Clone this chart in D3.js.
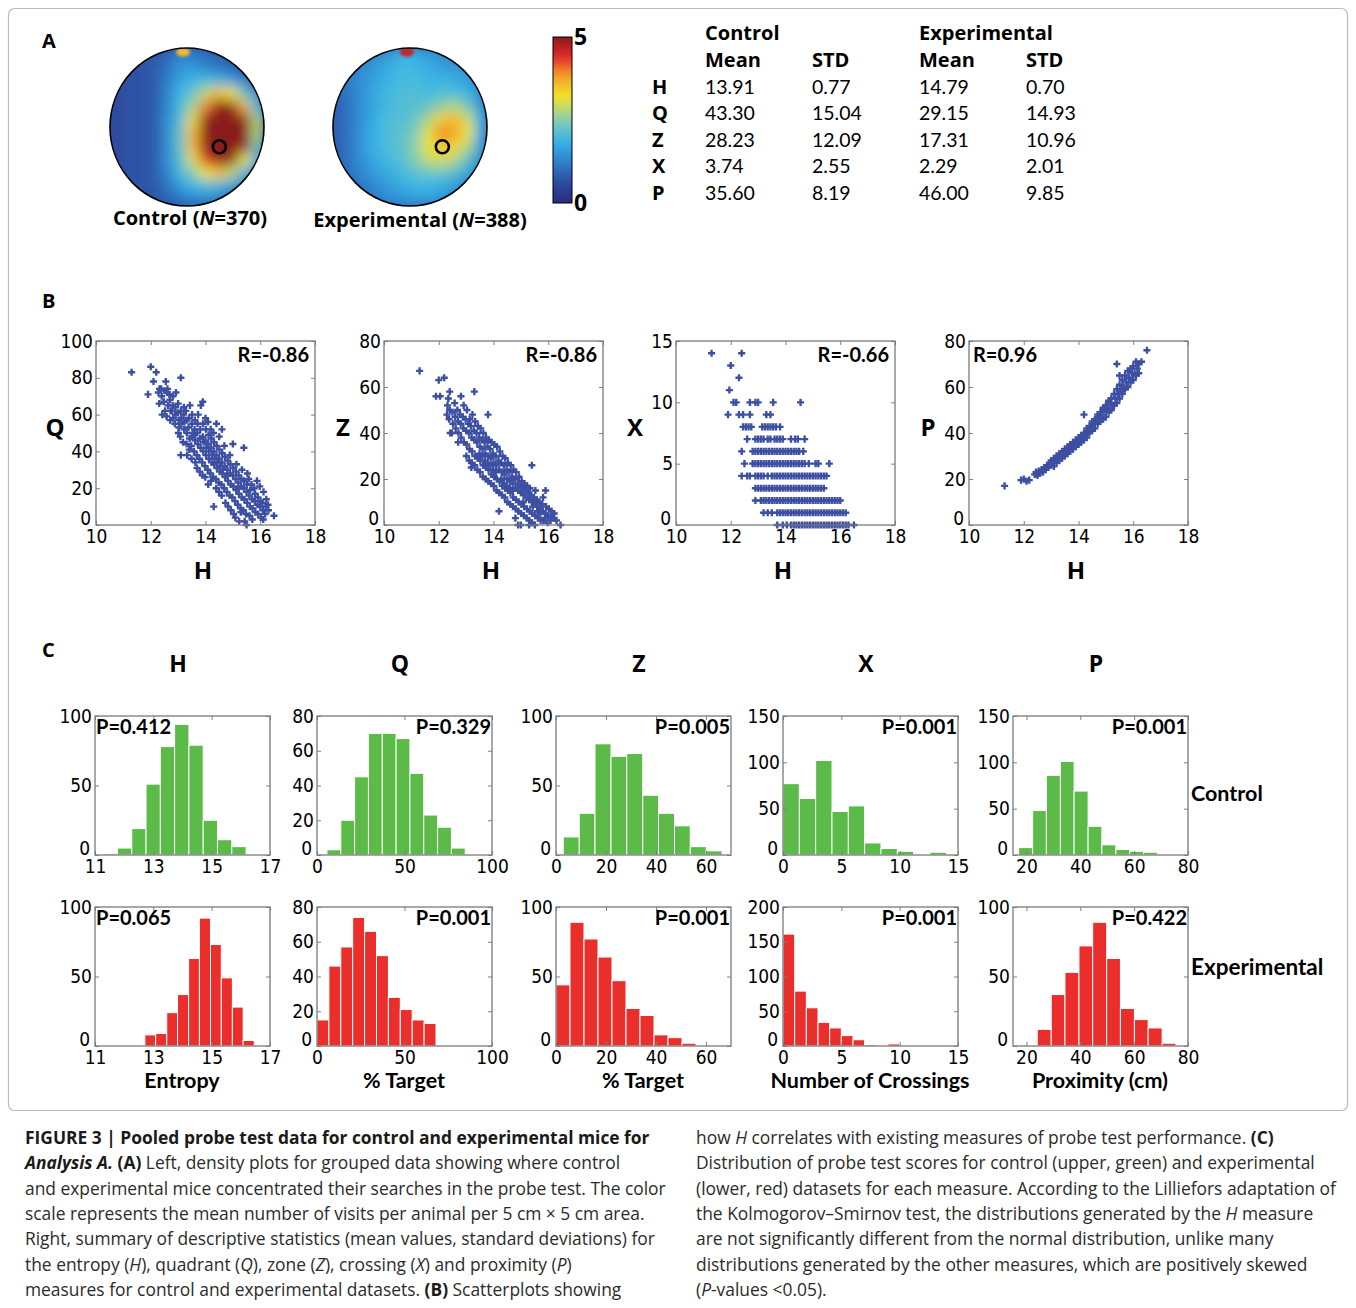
<!DOCTYPE html>
<html>
<head>
<meta charset="utf-8">
<script src="https://cdn.jsdelivr.net/npm/d3@7"></script>
<style>
body { margin: 0; background: #fff; }
svg { display: block; }
.ax text { font-family: "Liberation Sans Narrow", "DejaVu Sans Condensed", sans-serif; font-stretch: condensed; font-size: 19px; fill: #000; }
.ax line { stroke: #808080; }
.bold { font-family: Lato, "Open Sans", sans-serif; font-weight: bold; fill: #000; }
.obold { font-family: "Open Sans", Lato, sans-serif; font-weight: bold; fill: #000; }
.reg { font-family: Lato, "Open Sans", sans-serif; fill: #000; }
.cap { font-family: "Open Sans", Lato, sans-serif; font-size: 17.4px; fill: #2b2b2b; white-space: pre; }
</style>
</head>
<body>
<svg width="1356" height="1308"></svg>
<script>
var svg = d3.select("svg");
var defs = svg.append("defs");

// ---------- panel A data ----------
var measures = ["H", "Q", "Z", "X", "P"];
var ctrlMean = ["13.91", "43.30", "28.23", "3.74", "35.60"];
var ctrlStd = ["0.77", "15.04", "12.09", "2.55", "8.19"];
var expMean = ["14.79", "29.15", "17.31", "2.29", "46.00"];
var expStd = ["0.70", "14.93", "10.96", "2.01", "9.85"];

// visits per 5x5 cm, coarse grid (rows top->bottom)
// values above 5 saturate the colour scale, as in the original
var ctrlDensity = [
  [0.6,0.6,0.7,0.7,0.9,1.3,1.2,1.0,0.9,0.8,0.7,0.7],
  [0.6,0.7,0.7,0.8,1.1,1.5,1.5,1.3,1.1,0.9,0.8,0.7],
  [0.6,0.7,0.7,0.8,1.2,1.7,1.9,2.0,2.0,1.6,1.2,0.9],
  [0.6,0.7,0.7,0.8,1.3,1.9,2.3,2.9,3.6,3.2,2.3,1.4],
  [0.6,0.7,0.7,0.8,1.3,2.0,2.7,4.0,5.6,5.6,3.6,2.0],
  [0.6,0.7,0.7,0.8,1.4,2.1,3.3,5.6,7.0,7.0,5.6,2.8],
  [0.6,0.7,0.7,0.8,1.4,2.2,3.6,6.2,7.0,7.0,6.0,2.8],
  [0.6,0.7,0.7,0.8,1.4,2.2,3.6,6.2,7.0,7.0,5.2,2.4],
  [0.6,0.7,0.7,0.8,1.4,2.1,3.1,4.4,6.0,5.0,3.2,1.8],
  [0.6,0.7,0.7,0.8,1.3,2.0,2.5,3.2,3.6,2.9,2.0,1.2],
  [0.6,0.7,0.7,0.8,1.1,1.6,1.9,2.1,2.0,1.6,1.2,0.9],
  [0.6,0.6,0.7,0.7,0.9,1.1,1.3,1.3,1.2,1.0,0.8,0.7]
];
var expDensity = [
  [1.0,1.1,1.2,1.4,1.6,1.9,1.8,1.6,1.4,1.2,1.1,1.0],
  [1.0,1.2,1.4,1.6,1.8,2.0,1.9,1.8,1.6,1.6,1.4,1.2],
  [1.0,1.3,1.5,1.7,1.9,2.0,2.0,1.9,1.9,1.8,1.6,1.3],
  [1.0,1.2,1.5,1.8,2.0,2.1,2.1,2.0,2.1,2.1,1.9,1.4],
  [0.9,1.2,1.5,1.8,2.0,2.1,2.1,2.3,2.6,2.8,2.4,1.6],
  [0.9,1.2,1.5,1.9,2.1,2.1,2.3,2.8,3.4,3.6,3.0,1.8],
  [0.9,1.2,1.6,1.9,2.1,2.2,2.5,3.1,4.0,3.8,3.2,1.8],
  [0.9,1.2,1.6,1.9,2.1,2.2,2.6,3.2,3.5,3.3,2.8,1.6],
  [0.9,1.2,1.5,1.8,2.0,2.2,2.5,2.9,3.0,2.8,2.2,1.4],
  [0.9,1.1,1.4,1.6,1.8,2.0,2.2,2.3,2.3,2.1,1.7,1.2],
  [0.8,1.0,1.2,1.4,1.6,1.8,1.9,1.9,1.8,1.6,1.3,1.0],
  [0.8,0.9,1.0,1.2,1.4,1.5,1.6,1.6,1.5,1.3,1.1,0.9]
];
// small hot spot at the start position (arena coords -1..1, value)
var ctrlSpot = [-0.05, -0.95, 3.6];
var expSpot = [-0.04, -0.95, 4.6];
var platform = [0.42, 0.25];

// ---------- panel B data (H vs other measure) ----------
var scatterQ = [[11.3,83],[11.9,71],[12.0,86],[12.1,78],[12.2,83],[12.32,74],[12.28,72],[12.31,66],[12.4,70],[12.42,60],[12.38,74],[12.5,73],[12.52,62],[12.48,67],[12.55,78],[12.6,72],[12.63,65],[12.58,59],[12.61,74],[12.7,68],[12.72,62],[12.68,71],[12.71,57],[12.8,65],[12.82,58],[12.78,62],[12.81,70],[12.9,64],[12.92,72],[12.88,55],[12.91,60],[13.0,66],[13.02,57],[12.98,61],[13.01,50],[13.03,53],[13.1,62],[13.12,55],[13.08,48],[13.11,58],[13.1,38],[13.1,80],[13.2,60],[13.22,52],[13.18,45],[13.21,64],[13.23,56],[13.3,57],[13.32,50],[13.28,62],[13.31,44],[13.33,38],[13.4,58],[13.42,47],[13.38,53],[13.41,41],[13.43,65],[13.5,55],[13.52,48],[13.48,43],[13.51,60],[13.53,50],[13.49,36],[13.6,52],[13.62,46],[13.58,40],[13.61,57],[13.63,34],[13.59,49],[13.7,50],[13.72,44],[13.68,38],[13.71,55],[13.73,60],[13.69,31],[13.8,47],[13.82,42],[13.78,36],[13.81,52],[13.83,65],[13.79,29],[13.9,48],[13.92,40],[13.88,34],[13.91,55],[13.93,45],[13.89,27],[13.9,67],[14.0,46],[14.02,38],[13.98,32],[14.01,52],[14.03,42],[13.99,26],[14.0,58],[14.1,44],[14.12,36],[14.08,30],[14.11,49],[14.13,40],[14.09,56],[14.1,22],[14.2,42],[14.22,34],[14.18,28],[14.21,47],[14.23,38],[14.19,52],[14.2,24],[14.3,40],[14.32,33],[14.28,26],[14.31,45],[14.33,36],[14.3,10],[14.29,50],[14.4,38],[14.42,31],[14.38,25],[14.41,43],[14.43,34],[14.39,20],[14.4,55],[14.5,36],[14.52,29],[14.48,23],[14.51,41],[14.53,32],[14.49,18],[14.5,48],[14.6,34],[14.62,28],[14.58,22],[14.61,39],[14.63,30],[14.59,16],[14.6,52],[14.7,32],[14.72,26],[14.68,20],[14.71,37],[14.73,12],[14.69,43],[14.8,30],[14.82,24],[14.78,18],[14.81,35],[14.83,10],[14.79,27],[14.9,28],[14.92,22],[14.88,16],[14.91,33],[14.93,8],[14.89,38],[15.0,27],[15.02,21],[14.98,15],[15.01,31],[15.0,44],[15.03,6],[15.1,25],[15.12,19],[15.08,13],[15.11,29],[15.13,33],[15.09,4],[15.2,23],[15.22,17],[15.18,11],[15.21,27],[15.23,2],[15.19,20],[15.3,21],[15.32,15],[15.28,9],[15.31,25],[15.33,30],[15.29,7],[15.4,20],[15.42,14],[15.38,8],[15.41,24],[15.4,42],[15.43,2],[15.5,18],[15.52,12],[15.48,6],[15.51,22],[15.5,0],[15.53,28],[15.6,16],[15.62,10],[15.58,25],[15.61,5],[15.63,19],[15.7,14],[15.72,9],[15.68,22],[15.71,3],[15.8,13],[15.82,7],[15.78,20],[15.81,17],[15.9,11],[15.92,6],[15.88,24],[15.91,15],[16.0,10],[16.02,4],[15.98,21],[16.01,13],[16.1,8],[16.12,18],[16.08,12],[16.11,3],[16.2,10],[16.22,14],[16.18,6],[16.3,8],[16.28,11],[16.5,5]];

var scatterZ = [[11.3,67],[11.9,56],[12.0,63],[12.05,56],[12.2,64],[12.35,55],[12.4,58],[13.3,58],[13.8,48],[15.4,26],[15.9,15],[12.3,48],[12.32,52],[12.4,50],[12.42,40],[12.38,46],[12.5,49],[12.52,44],[12.48,40],[12.6,47],[12.62,42],[12.58,53],[12.7,45],[12.72,40],[12.68,50],[12.71,36],[12.8,44],[12.82,38],[12.78,48],[12.81,56],[12.9,42],[12.92,36],[12.88,47],[12.91,52],[13.0,41],[13.02,35],[12.98,46],[13.01,30],[13.03,50],[13.1,40],[13.12,33],[13.08,44],[13.11,28],[13.13,46],[13.2,38],[13.22,32],[13.18,43],[13.21,27],[13.23,48],[13.19,25],[13.3,37],[13.32,30],[13.28,41],[13.31,26],[13.33,45],[13.4,36],[13.42,29],[13.38,40],[13.41,24],[13.43,43],[13.5,34],[13.52,28],[13.48,38],[13.51,23],[13.53,42],[13.49,31],[13.6,33],[13.62,26],[13.58,37],[13.61,21],[13.63,40],[13.59,30],[13.7,31],[13.72,25],[13.68,36],[13.71,20],[13.73,38],[13.69,28],[13.8,30],[13.82,24],[13.78,34],[13.81,19],[13.83,37],[13.79,27],[13.9,29],[13.92,22],[13.88,33],[13.91,18],[13.93,36],[13.89,26],[14.0,27],[14.02,21],[13.98,31],[14.01,17],[14.03,35],[13.99,24],[14.1,26],[14.12,20],[14.08,30],[14.11,15],[14.13,34],[14.09,23],[14.2,24],[14.22,19],[14.18,28],[14.21,14],[14.23,32],[14.2,6],[14.3,23],[14.32,17],[14.28,27],[14.31,13],[14.33,30],[14.29,20],[14.4,22],[14.42,16],[14.38,26],[14.41,12],[14.43,29],[14.39,18],[14.5,20],[14.52,15],[14.48,24],[14.51,10],[14.53,27],[14.49,17],[14.6,19],[14.62,14],[14.58,23],[14.61,9],[14.63,26],[14.59,16],[14.7,18],[14.72,12],[14.68,21],[14.71,8],[14.73,24],[14.69,15],[14.8,16],[14.82,11],[14.78,20],[14.81,7],[14.83,23],[14.8,3],[14.9,15],[14.92,10],[14.88,18],[14.91,6],[14.93,21],[14.9,0],[15.0,14],[15.02,9],[14.98,17],[15.01,5],[15.03,19],[15.0,0],[15.1,13],[15.12,8],[15.08,16],[15.11,4],[15.13,18],[15.09,10],[15.2,12],[15.22,7],[15.18,15],[15.21,3],[15.23,17],[15.3,11],[15.32,6],[15.28,14],[15.31,2],[15.33,16],[15.3,0],[15.4,10],[15.42,5],[15.38,13],[15.41,1],[15.43,8],[15.5,9],[15.52,4],[15.48,12],[15.51,0],[15.53,15],[15.6,8],[15.62,3],[15.58,11],[15.61,6],[15.7,7],[15.72,2],[15.68,10],[15.71,5],[15.8,6],[15.82,2],[15.78,9],[15.81,12],[15.9,5],[15.92,8],[15.88,3],[16.0,4],[16.02,7],[15.98,1],[16.1,4],[16.12,6],[16.08,2],[16.2,3],[16.22,5],[16.3,2],[16.45,0]];

// crossings are integers: one row of H values per X value
var crossingRows = [
  [14, [11.3, 12.4]],
  [13, [12.0]],
  [12, [12.3]],
  [11, [11.95]],
  [10, [12.1, 12.2, 12.7, 12.9, 13.0, 13.55, 14.55]],
  [9, [11.9, 12.3, 12.45, 12.7, 13.3, 13.45]],
  [8, [12.45, 12.55, 12.65, 12.75, 13.15, 13.25, 13.35, 13.45, 13.55, 13.65, 13.8]],
  [7, [12.6, 12.9, 13.0, 13.1, 13.2, 13.35, 13.45, 13.6, 13.7, 13.8, 13.9, 14.2, 14.35, 14.45, 14.7]],
  [6, [12.4, 12.8, 12.9, 13.0, 13.1, 13.2, 13.3, 13.4, 13.5, 13.6, 13.7, 13.8, 13.9, 14.0, 14.1, 14.2, 14.3, 14.4, 14.5, 14.65]],
  [5, [12.5, 12.8, 12.9, 13.0, 13.1, 13.2, 13.3, 13.4, 13.5, 13.6, 13.7, 13.8, 13.9, 14.0, 14.1, 14.2, 14.3, 14.4, 14.5, 14.6, 14.7, 14.85, 15.1, 15.2, 15.6]],
  [4, [12.4, 12.6, 12.7, 12.9, 13.0, 13.1, 13.2, 13.35, 13.5, 13.6, 13.7, 13.8, 13.9, 14.0, 14.1, 14.2, 14.3, 14.4, 14.5, 14.6, 14.7, 14.8, 14.9, 15.0, 15.1, 15.2, 15.3, 15.4, 15.5]],
  [3, [12.9, 13.0, 13.1, 13.2, 13.3, 13.4, 13.5, 13.6, 13.7, 13.8, 13.9, 14.0, 14.1, 14.2, 14.3, 14.4, 14.5, 14.6, 14.7, 14.8, 14.9, 15.0, 15.1, 15.2, 15.3, 15.4]],
  [2, [12.9, 13.1, 13.2, 13.3, 13.4, 13.5, 13.6, 13.7, 13.8, 13.9, 14.0, 14.1, 14.2, 14.3, 14.4, 14.5, 14.6, 14.7, 14.8, 14.9, 15.0, 15.1, 15.2, 15.3, 15.4, 15.5, 15.6, 15.7, 15.8, 15.9, 16.0]],
  [1, [13.2, 13.35, 13.5, 13.7, 13.8, 13.9, 14.0, 14.1, 14.2, 14.3, 14.4, 14.5, 14.6, 14.7, 14.8, 14.9, 15.0, 15.1, 15.2, 15.3, 15.4, 15.5, 15.6, 15.7, 15.8, 15.9, 16.0, 16.1, 16.2]],
  [0, [13.7, 13.9, 14.05, 14.2, 14.3, 14.4, 14.5, 14.6, 14.7, 14.8, 14.9, 15.0, 15.1, 15.2, 15.3, 15.4, 15.5, 15.6, 15.7, 15.8, 15.9, 16.0, 16.1, 16.2, 16.3, 16.5]]
];

var scatterP = [[11.3,17],[11.9,19.5],[12.0,20],[12.1,19],[12.2,19.5],[12.4,22],[12.45,23],[12.5,21.5],[12.55,23.5],[12.6,22.5],[12.65,24],[12.7,23],[12.75,25],[12.8,24],[12.85,26],[12.9,25],[12.95,27],[13.0,26],[13.0,28],[13.05,27],[13.1,25.5],[13.1,29],[13.15,28],[13.2,27],[13.2,30],[13.25,29],[13.3,28],[13.3,31],[13.35,30],[13.4,29],[13.4,32],[13.45,31],[13.5,30],[13.5,33],[13.55,32],[13.6,31],[13.6,34],[13.65,33],[13.7,32],[13.7,35],[13.75,34],[13.8,33],[13.8,36],[13.85,35],[13.9,34],[13.9,37],[13.95,36],[14.0,35],[14.0,38],[14.05,37],[14.1,36],[14.1,39],[14.15,38],[14.2,37],[14.2,40],[14.2,48],[14.25,39],[14.3,38],[14.3,42],[14.35,41],[14.4,40],[14.4,43],[14.45,42],[14.5,41],[14.5,45],[14.55,44],[14.6,42],[14.6,46],[14.65,45],[14.7,44],[14.7,48],[14.75,47],[14.8,45],[14.8,49],[14.85,48],[14.9,46],[14.9,51],[14.95,50],[15.0,47],[15.0,52],[15.05,51],[15.1,49],[15.1,54],[15.15,53],[15.2,50],[15.2,55],[15.25,52],[15.3,52],[15.3,57],[15.35,55],[15.4,53],[15.4,59],[15.4,70],[15.45,57],[15.5,55],[15.5,61],[15.5,65],[15.55,58],[15.6,57],[15.6,63],[15.65,60],[15.7,59],[15.7,65],[15.75,62],[15.8,60],[15.8,67],[15.85,64],[15.9,62],[15.9,68],[15.95,66],[16.0,63],[16.0,69],[16.05,66],[16.1,65],[16.1,71],[16.15,68],[16.2,66],[16.2,70],[16.3,71],[16.5,76]];

var scatterR = ["R=-0.86", "R=-0.86", "R=-0.66", "R=0.96"];

// ---------- panel C data: bin edges and counts ----------
var ctrlHEdges = [11.28,11.77,12.26,12.75,13.24,13.73,14.22,14.71,15.20,15.69,16.18];
var ctrlHCounts = [1,5,19,51,78,94,79,25,11,6];
var ctrlQEdges = [5.7,13.6,21.5,29.4,37.3,45.2,53.1,61.0,68.9,76.8,84.7];
var ctrlQCounts = [3,20,45,70,70,67,47,23,16,4];
var ctrlZEdges = [2.9,9.3,15.6,22.0,28.3,34.7,41.0,47.4,53.7,60.1,66.4];
var ctrlZCounts = [13,30,80,71,73,43,30,21,6,3];
var ctrlXEdges = [0,1.4,2.8,4.2,5.6,7.0,8.4,9.8,11.2,12.6,14.0];
var ctrlXCounts = [77,61,102,47,53,13,7,4,1,3];
var ctrlPEdges = [17.1,22.3,27.4,32.6,37.7,42.9,48.0,53.2,58.3,63.5,68.6];
var ctrlPCounts = [8,48,86,101,69,31,11,6,4,3];
var expHEdges = [12.71,13.08,13.46,13.83,14.21,14.58,14.96,15.33,15.71,16.08,16.46];
var expHCounts = [8,9,24,37,63,92,73,49,28,4];
var expQEdges = [0,6.8,13.6,20.4,27.2,34.0,40.8,47.6,54.4,61.2,68.0];
var expQCounts = [15,46,57,74,66,52,28,21,15,13];
var expZEdges = [0,5.6,11.2,16.8,22.4,28.0,33.6,39.2,44.8,50.4,56.0];
var expZCounts = [44,89,77,64,47,27,22,8,6,2];
var expXEdges = [0,1,2,3,4,5,6,7,8,9,10];
var expXCounts = [161,79,55,34,26,15,9,2,0,3];
var expPEdges = [24.0,29.2,34.3,39.5,44.6,49.8,54.9,60.1,65.2,70.4,75.5];
var expPCounts = [12,37,53,72,89,63,27,19,13,2];

var ctrlPvals = ["P=0.412", "P=0.329", "P=0.005", "P=0.001", "P=0.001"];
var expPvals = ["P=0.065", "P=0.001", "P=0.001", "P=0.001", "P=0.422"];
var histXLabels = ["Entropy", "% Target", "% Target", "Number of Crossings", "Proximity (cm)"];

var captionLeft = [
  [["FIGURE 3 | Pooled probe test data for control and experimental mice for", "b"]],
  [["Analysis A.", "bi"], [" (A)", "b"], [" Left, density plots for grouped data showing where control", ""]],
  [["and experimental mice concentrated their searches in the probe test. The color", ""]],
  [["scale represents the mean number of visits per animal per 5 cm \u00d7 5 cm area.", ""]],
  [["Right, summary of descriptive statistics (mean values, standard deviations) for", ""]],
  [["the entropy (", ""], ["H", "i"], ["), quadrant (", ""], ["Q", "i"], ["), zone (", ""], ["Z", "i"], ["), crossing (", ""], ["X", "i"], [") and proximity (", ""], ["P", "i"], [")", ""]],
  [["measures for control and experimental datasets. ", ""], ["(B)", "b"], [" Scatterplots showing", ""]]
];
var captionRight = [
  [["how ", ""], ["H", "i"], [" correlates with existing measures of probe test performance. ", ""], ["(C)", "b"]],
  [["Distribution of probe test scores for control (upper, green) and experimental", ""]],
  [["(lower, red) datasets for each measure. According to the Lilliefors adaptation of", ""]],
  [["the Kolmogorov\u2013Smirnov test, the distributions generated by the ", ""], ["H", "i"], [" measure", ""]],
  [["are not significantly different from the normal distribution, unlike many", ""]],
  [["distributions generated by the other measures, which are positively skewed", ""]],
  [["(", ""], ["P", "i"], ["-values <0.05).", ""]]
];

// ---------- colours ----------
var jet = d3.scaleLinear()
  .domain([0, 0.6, 1.3, 1.9, 2.5, 3.2, 3.9, 4.4, 5])
  .range(["#272c7c", "#2d4a9e", "#2f86cf", "#3ab6e6", "#86cdb0", "#f2e52a", "#f5952a", "#e3282b", "#8a1a1c"])
  .clamp(true);
var green = "#5cba48", red = "#ea2e2b", dotBlue = "#3c4fa2";

// frame round the whole figure
svg.append("rect").attr("x", 8.5).attr("y", 8.5).attr("width", 1339).attr("height", 1102)
  .attr("rx", 6).attr("fill", "none").attr("stroke", "#bdbdbd").attr("stroke-width", 1.2);

function panelLetter(t, x, y) {
  svg.append("text").attr("class", "obold").attr("x", x).attr("y", y).attr("font-size", 20).text(t);
}
panelLetter("A", 42, 48);
panelLetter("B", 42, 308);
panelLetter("C", 42, 657);

// ---------- A: density maps ----------
defs.append("filter").attr("id", "soft").attr("x", "-20%").attr("y", "-20%").attr("width", "140%").attr("height", "140%")
  .append("feGaussianBlur").attr("stdDeviation", 6.5);
defs.append("filter").attr("id", "spot").attr("x", "-100%").attr("y", "-100%").attr("width", "300%").attr("height", "300%")
  .append("feGaussianBlur").attr("stdDeviation", 1.5);

var arenaRx = 77, arenaRy = 79;
function drawArena(cx, cy, grid, spot, id) {
  var n = grid.length;
  var gx = d3.scaleLinear().domain([0, n]).range([cx - arenaRx, cx + arenaRx]);
  var gy = d3.scaleLinear().domain([0, n]).range([cy - arenaRy, cy + arenaRy]);
  var ax = d3.scaleLinear().domain([-1, 1]).range([cx - arenaRx, cx + arenaRx]);
  var ay = d3.scaleLinear().domain([-1, 1]).range([cy - arenaRy, cy + arenaRy]);
  defs.append("clipPath").attr("id", id).append("ellipse")
    .attr("cx", cx).attr("cy", cy).attr("rx", arenaRx).attr("ry", arenaRy);
  var g = svg.append("g").attr("clip-path", "url(#" + id + ")");
  g.append("ellipse").attr("cx", cx).attr("cy", cy).attr("rx", arenaRx).attr("ry", arenaRy)
    .attr("fill", jet(grid[n - 1][0]));
  var cells = [];
  grid.forEach(function(row, i) { row.forEach(function(v, j) { cells.push({i: i, j: j, v: v}); }); });
  g.append("g").attr("filter", "url(#soft)").selectAll("rect").data(cells).join("rect")
    .attr("x", function(d) { return gx(d.j) - 0.5; })
    .attr("y", function(d) { return gy(d.i) - 0.5; })
    .attr("width", gx(1) - gx(0) + 1)
    .attr("height", gy(1) - gy(0) + 1)
    .attr("fill", function(d) { return jet(d.v); });
  g.append("ellipse").attr("filter", "url(#spot)")
    .attr("cx", ax(spot[0])).attr("cy", ay(spot[1])).attr("rx", 7).attr("ry", 4.5)
    .attr("fill", jet(spot[2]));
  svg.append("ellipse").attr("cx", cx).attr("cy", cy).attr("rx", arenaRx).attr("ry", arenaRy)
    .attr("fill", "none").attr("stroke", "#000").attr("stroke-width", 1.6);
  svg.append("circle").attr("cx", ax(platform[0])).attr("cy", ay(platform[1])).attr("r", 6.5)
    .attr("fill", "none").attr("stroke", "#000").attr("stroke-width", 2.6);
}
drawArena(187, 127, ctrlDensity, ctrlSpot, "arenaC");
drawArena(410, 127, expDensity, expSpot, "arenaE");

function groupLabel(x, y, name, n) {
  var t = svg.append("text").attr("class", "obold").attr("x", x).attr("y", y)
    .attr("font-size", 20).attr("text-anchor", "middle");
  t.append("tspan").text(name + " (");
  t.append("tspan").attr("font-style", "italic").text("N");
  t.append("tspan").text("=" + n + ")");
}
groupLabel(190, 225, "Control", 370);
groupLabel(420, 227, "Experimental", 388);

// colour bar
var cb = defs.append("linearGradient").attr("id", "jetbar").attr("x1", 0).attr("y1", 1).attr("x2", 0).attr("y2", 0);
d3.range(0, 5.01, 0.25).forEach(function(v) {
  cb.append("stop").attr("offset", v / 5).attr("stop-color", jet(v));
});
var cbScale = d3.scaleLinear().domain([0, 5]).range([203, 37]);
svg.append("rect").attr("x", 553).attr("y", cbScale(5)).attr("width", 19).attr("height", cbScale(0) - cbScale(5))
  .attr("fill", "url(#jetbar)").attr("stroke", "#000").attr("stroke-width", 1);
[5, 0].forEach(function(v) {
  svg.append("text").attr("class", "obold").attr("x", 574).attr("y", cbScale(v) + 8)
    .attr("font-size", 23).text(v);
});

// summary table
var rowY = d3.scaleBand().domain(measures).range([74, 206]);
function tcell(x, y, txt, cls, fs) {
  svg.append("text").attr("class", cls).attr("x", x).attr("y", y).attr("font-size", fs).text(txt);
}
tcell(705, 40, "Control", "obold", 20);
tcell(919, 40, "Experimental", "obold", 20);
tcell(705, 67, "Mean", "obold", 20); tcell(812, 67, "STD", "obold", 20);
tcell(919, 67, "Mean", "obold", 20); tcell(1026, 67, "STD", "obold", 20);
measures.forEach(function(m, i) {
  var y = rowY(m) + 20;
  tcell(652, y, m, "obold", 20);
  tcell(705, y, ctrlMean[i], "reg", 19.5);
  tcell(812, y, ctrlStd[i], "reg", 19.5);
  tcell(919, y, expMean[i], "reg", 19.5);
  tcell(1026, y, expStd[i], "reg", 19.5);
});

// ---------- shared axes box (MATLAB style) ----------
function axesBox(x, y, xt, yt) {
  var x0 = x.range()[0], x1 = x.range()[1], yb = y.range()[0], yt0 = y.range()[1];
  var g = svg.append("g");
  g.append("g").attr("class", "ax").attr("transform", "translate(0," + yb + ")")
    .call(d3.axisBottom(x).tickValues(xt).tickSize(-4).tickPadding(5).tickFormat(d3.format("d")));
  g.append("g").attr("class", "ax").attr("transform", "translate(0," + yt0 + ")")
    .call(d3.axisTop(x).tickValues(xt).tickSize(-4).tickFormat(""));
  g.append("g").attr("class", "ax").attr("transform", "translate(" + x0 + ",0)")
    .call(d3.axisLeft(y).tickValues(yt).tickSize(-4).tickPadding(3));
  g.append("g").attr("class", "ax").attr("transform", "translate(" + x1 + ",0)")
    .call(d3.axisRight(y).tickValues(yt).tickSize(-4).tickFormat(""));
  g.selectAll(".domain").remove();
  // MATLAB lifts the zero of the y axis a little above the corner
  g.selectAll(".ax text").filter(function(d) { return d === 0 && this.getAttribute("x") < 0; })
    .attr("dy", "-0.05em").attr("x", -5);
  g.append("rect").attr("x", x0).attr("y", yt0).attr("width", x1 - x0).attr("height", yb - yt0)
    .attr("fill", "none").attr("stroke", "#7a7a7a").attr("stroke-width", 1.3);
}

// ---------- B: scatterplots ----------
var scatterSets = [
  {data: scatterQ, name: "Q", ymax: 100, yt: [0, 20, 40, 60, 80, 100]},
  {data: scatterZ, name: "Z", ymax: 80, yt: [0, 20, 40, 60, 80]},
  {data: [].concat.apply([], crossingRows.map(function(r) { return r[1].map(function(h) { return [h, r[0]]; }); })),
   name: "X", ymax: 15, yt: [0, 5, 10, 15]},
  {data: scatterP, name: "P", ymax: 80, yt: [0, 20, 40, 60, 80]}
];
var scLeft = [96, 384, 676, 969], scW = 219, scTop = 341, scH = 184;
var marker = d3.symbol().type(d3.symbolCross).size(28);
scatterSets.forEach(function(s, k) {
  var x = d3.scaleLinear().domain([10, 18]).range([scLeft[k], scLeft[k] + scW]);
  var y = d3.scaleLinear().domain([0, s.ymax]).range([scTop + scH, scTop]);
  svg.append("g").selectAll("path").data(s.data).join("path")
    .attr("d", marker)
    .attr("transform", function(d) { return "translate(" + x(d[0]) + "," + y(d[1]) + ")"; })
    .attr("fill", dotBlue);
  axesBox(x, y, [10, 12, 14, 16, 18], s.yt);
  var left = k === 3;
  svg.append("text").attr("class", "bold").attr("font-size", 20)
    .attr("x", left ? scLeft[k] + 4 : scLeft[k] + scW - 6).attr("y", scTop + 21)
    .attr("text-anchor", left ? "start" : "end").text(scatterR[k]);
  svg.append("text").attr("class", "obold").attr("font-size", 24).attr("text-anchor", "middle")
    .attr("x", scLeft[k] - 41).attr("y", scTop + 95).text(s.name);
  svg.append("text").attr("class", "obold").attr("font-size", 24).attr("text-anchor", "middle")
    .attr("x", scLeft[k] + 107).attr("y", 579).text("H");
});

// ---------- C: histograms ----------
var histCols = [
  {name: "H", dom: [11, 17], xt: [11, 13, 15, 17]},
  {name: "Q", dom: [0, 100], xt: [0, 50, 100]},
  {name: "Z", dom: [0, 70], xt: [0, 20, 40, 60]},
  {name: "X", dom: [0, 15], xt: [0, 5, 10, 15]},
  {name: "P", dom: [15, 80], xt: [20, 40, 60, 80]}
];
var histRows = [
  {top: 716, color: green, pv: ctrlPvals, label: "Control", labelY: 801, fs: 21.5,
   sets: [[ctrlHEdges, ctrlHCounts, 100, [0, 50, 100]], [ctrlQEdges, ctrlQCounts, 80, [0, 20, 40, 60, 80]],
          [ctrlZEdges, ctrlZCounts, 100, [0, 50, 100]], [ctrlXEdges, ctrlXCounts, 150, [0, 50, 100, 150]],
          [ctrlPEdges, ctrlPCounts, 150, [0, 50, 100, 150]]]},
  {top: 907, color: red, pv: expPvals, label: "Experimental", labelY: 975, fs: 22.5,
   sets: [[expHEdges, expHCounts, 100, [0, 50, 100]], [expQEdges, expQCounts, 80, [0, 20, 40, 60, 80]],
          [expZEdges, expZCounts, 100, [0, 50, 100]], [expXEdges, expXCounts, 200, [0, 50, 100, 150, 200]],
          [expPEdges, expPCounts, 100, [0, 50, 100]]]}
];
var hLeft = [95, 317, 556, 783, 1013], hW = 175, hH = 139;

histCols.forEach(function(c, k) {
  svg.append("text").attr("class", "obold").attr("font-size", 23).attr("text-anchor", "middle")
    .attr("x", hLeft[k] + 83).attr("y", 672).text(c.name);
  svg.append("text").attr("class", "bold").attr("font-size", 21.5).attr("text-anchor", "middle")
    .attr("x", hLeft[k] + 87).attr("y", 1088).text(histXLabels[k]);
});

histRows.forEach(function(r) {
  histCols.forEach(function(c, k) {
    var edges = r.sets[k][0], counts = r.sets[k][1];
    var x = d3.scaleLinear().domain(c.dom).range([hLeft[k], hLeft[k] + hW]);
    var y = d3.scaleLinear().domain([0, r.sets[k][2]]).range([r.top + hH, r.top]);
    svg.append("g").selectAll("rect").data(counts).join("rect")
      .attr("x", function(d, i) { return x(edges[i]); })
      .attr("width", function(d, i) { return x(edges[i + 1]) - x(edges[i]); })
      .attr("y", function(d) { return y(d); })
      .attr("height", function(d) { return y(0) - y(d); })
      .attr("fill", r.color).attr("stroke", "#fff").attr("stroke-width", 1);
    axesBox(x, y, c.xt, r.sets[k][3]);
    var left = k === 0;
    svg.append("text").attr("class", "bold").attr("font-size", 20)
      .attr("x", left ? hLeft[k] + 1 : hLeft[k] + hW - 1).attr("y", r.top + 18)
      .attr("text-anchor", left ? "start" : "end").text(r.pv[k]);
  });
  svg.append("text").attr("class", "bold").attr("font-size", r.fs)
    .attr("x", 1191).attr("y", r.labelY).text(r.label);
});

// ---------- caption ----------
function caption(lines, x) {
  lines.forEach(function(segs, i) {
    var t = svg.append("text").attr("class", "cap").attr("x", x).attr("y", 1144 + i * 25.3);
    segs.forEach(function(s) {
      var ts = t.append("tspan").text(s[0]);
      if (s[1].indexOf("b") >= 0) ts.attr("font-weight", "bold").attr("fill", "#1a1a1a");
      if (s[1].indexOf("i") >= 0) ts.attr("font-style", "italic");
    });
  });
}
caption(captionLeft, 25);
caption(captionRight, 696);
</script>
</body>
</html>
